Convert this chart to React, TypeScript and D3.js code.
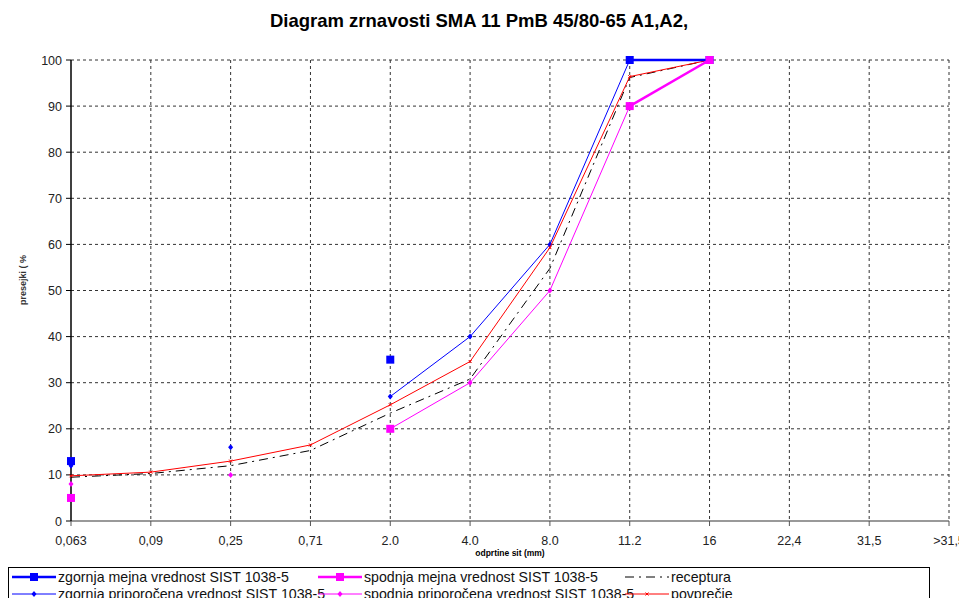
import * as d3 from "d3";

const categories = ["0,063", "0,09", "0,25", "0,71", "2.0", "4.0", "8.0", "11.2", "16", "22,4", "31,5", ">31,5"];
const yTicks = [0, 10, 20, 30, 40, 50, 60, 70, 80, 90, 100];

// null = no value at that sieve
const upperLimit = [13, null, null, null, 35, null, null, 100, 100, null, null, null];
const upperRecommended = [12, null, 16, null, 27, 40, 60, 100, 100, null, null, null];
const lowerLimit = [5, null, null, null, 20, null, null, 90, 100, null, null, null];
const lowerRecommended = [8, null, 10, null, 20, 30, 50, 90, 100, null, null, null];
const receptura = [9.5, 10.3, 12, 15.3, 23.4, 30.8, 54.8, 96.2, 100, null, null, null];
const povprecje = [9.8, 10.6, 13, 16.5, 25.2, 34.6, 59.3, 96.4, 100, null, null, null];

type Series = {
  name: string;
  values: (number | null)[];
  color: string;
  width: number;
  dash?: string;
  marker: "square" | "diamond" | "cross" | "none";
  size: number;
};

const series: Series[] = [
  { name: "receptura", values: receptura, color: "#000", width: 1, dash: "9,5,2,5", marker: "none", size: 0 },
  { name: "zgornja priporočena vrednost  SIST 1038-5", values: upperRecommended, color: "#0000ff", width: 1, marker: "diamond", size: 5 },
  { name: "spodnja priporočena vrednost SIST 1038-5", values: lowerRecommended, color: "#ff00ff", width: 1, marker: "diamond", size: 5 },
  { name: "povprečje", values: povprecje, color: "#ff0000", width: 1, marker: "cross", size: 3 },
  { name: "zgornja mejna vrednost SIST 1038-5", values: upperLimit, color: "#0000ff", width: 2.5, marker: "square", size: 8 },
  { name: "spodnja mejna vrednost SIST 1038-5", values: lowerLimit, color: "#ff00ff", width: 2.5, marker: "square", size: 8 },
];

const legendOrder = [
  [4, 5, 0],
  [1, 2, 3],
];

const W = 959;
const H = 598;
const margin = { top: 60, left: 71, right: 10, bottom: 77 };

function Marker({ s, x, y }: { s: Series; x: number; y: number }) {
  const r = s.size / 2;
  if (s.marker === "square")
    return <rect x={x - r} y={y - r} width={s.size} height={s.size} fill={s.color} />;
  if (s.marker === "diamond")
    return <path d={`M${x},${y - r - 0.5}L${x + r},${y}L${x},${y + r + 0.5}L${x - r},${y}Z`} fill={s.color} />;
  if (s.marker === "cross")
    return (
      <path d={`M${x - r},${y - r}L${x + r},${y + r}M${x - r},${y + r}L${x + r},${y - r}`} stroke={s.color} strokeWidth={1} />
    );
  return null;
}

export default function App() {
  const x = d3.scalePoint<string>().domain(categories).range([margin.left, 949]);
  const y = d3.scaleLinear().domain([0, 100]).range([521, margin.top]);

  const line = d3
    .line<number | null>()
    .defined((d) => d !== null)
    .x((_, i) => x(categories[i])!)
    .y((d) => y(d as number));

  const font = "Arial, 'Liberation Sans', sans-serif";

  return (
    <svg width={W} height={H} style={{ position: "absolute", left: 0, top: 0 }} fontFamily={font}>
      <rect width={W} height={H} fill="#fff" />
      <text x={479} y={27} textAnchor="middle" fontSize={18.5} fontWeight="bold">
        Diagram zrnavosti SMA 11 PmB 45/80-65 A1,A2,
      </text>

      {/* grid */}
      {yTicks.slice(1).map((t) => (
        <line key={"h" + t} x1={x(categories[0])} x2={949} y1={y(t)} y2={y(t)} stroke="#333" strokeDasharray="3,3" strokeWidth={1} />
      ))}
      {categories.slice(1).map((c) => (
        <line key={"v" + c} x1={x(c)} x2={x(c)} y1={y(100)} y2={y(0)} stroke="#333" strokeDasharray="3,3" strokeWidth={1} />
      ))}

      {/* axes */}
      <line x1={margin.left} x2={949} y1={y(0)} y2={y(0)} stroke="#777" strokeWidth={1.5} />
      <line x1={margin.left} x2={margin.left} y1={y(100)} y2={y(0)} stroke="#000" strokeWidth={1.5} />
      {yTicks.map((t) => (
        <g key={"yt" + t}>
          <line x1={margin.left - 5} x2={margin.left} y1={y(t)} y2={y(t)} stroke="#000" />
          <text x={62} y={y(t) + 4.5} textAnchor="end" fontSize={12.5} fill="#222">
            {t}
          </text>
        </g>
      ))}
      {categories.map((c) => (
        <g key={"xt" + c}>
          <line x1={x(c)} x2={x(c)} y1={y(0)} y2={y(0) + 5} stroke="#555" />
          <text x={x(c)} y={545} textAnchor="middle" fontSize={12.5} fill="#222">
            {c}
          </text>
        </g>
      ))}
      <text x={510} y={556} textAnchor="middle" fontSize={8.5} fontWeight="bold">
        odprtine sit (mm)
      </text>
      <text transform="translate(26,280) rotate(-90)" textAnchor="middle" fontSize={9} fontWeight="bold" fill="#333">
        presejki ( %
      </text>

      {/* series */}
      {series.map((s) => (
        <g key={s.name}>
          <path d={line(s.values) ?? ""} fill="none" stroke={s.color} strokeWidth={s.width} strokeDasharray={s.dash} />
          {s.values.map((v, i) => (v === null ? null : <Marker key={i} s={s} x={x(categories[i])!} y={y(v)} />))}
        </g>
      ))}

      {/* legend */}
      <rect x={8.5} y={567.5} width={921} height={40} fill="#fff" stroke="#000" strokeWidth={1} />
      {legendOrder.map((row, ri) =>
        row.map((si, ci) => {
          const s = series[si];
          const lx = [12, 318, 625][ci];
          const ly = 577 + ri * 17;
          return (
            <g key={s.name}>
              <line x1={lx} x2={lx + 44} y1={ly} y2={ly} stroke={s.color} strokeWidth={s.width} strokeDasharray={s.dash} />
              <Marker s={s} x={lx + 22} y={ly} />
              <text x={lx + 46} y={ly + 5} fontSize={14.2} fill="#111">
                {s.name}
              </text>
            </g>
          );
        })
      )}
    </svg>
  );
}
